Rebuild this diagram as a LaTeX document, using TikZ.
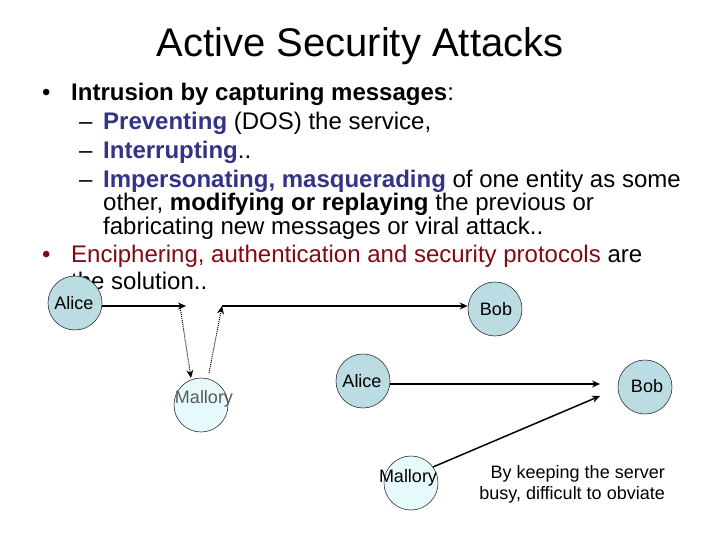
\documentclass[tikz,border=0pt]{standalone}
\usepackage{fontspec}
\setmainfont{Liberation Sans}
\usetikzlibrary{arrows.meta}
\definecolor{peer}{RGB}{186,220,226}
\definecolor{spy}{RGB}{230,250,252}
\definecolor{navyt}{RGB}{51,51,135}
\definecolor{redt}{RGB}{128,10,20}
\tikzset{
  x=1pt,y=-1pt,
  title/.style={font=\fontsize{40}{40}\selectfont,inner sep=0pt},
  lineA/.style={anchor=base west,inner sep=0pt,font=\fontsize{24}{24}\selectfont},
  peernode/.style={circle,draw=black!80,line width=.6pt,fill=peer,minimum size=54pt,inner sep=0pt},
  spynode/.style={circle,draw=black!80,line width=.6pt,fill=spy,minimum size=54pt,inner sep=0pt},
  lab/.style={inner sep=0pt,font=\fontsize{18}{18}\selectfont},
  conn/.style={line width=1.5pt,-{Stealth[length=8pt,width=7pt]}},
  dotconn/.style={line width=1pt,densely dotted,-{Stealth[length=8pt,width=7pt]}}
}
\begin{document}
\begin{tikzpicture}
\useasboundingbox (0,0) rectangle (720,540);
\fill[white] (0,0) rectangle (720,540);
\node[title] (ttl) at (360,46) {Active Security Attacks};
\node[lineA] (b1) at (42,101) {•};
\node[lineA] (l1) at (71,101) {\textbf{Intrusion by capturing messages}:};
\node[lineA] (d2) at (79,130) {–};
\node[lineA] (l2) at (103,130) {\textcolor{navyt}{\textbf{Preventing}} (DOS) the service,};
\node[lineA] (d3) at (79,159) {–};
\node[lineA] (l3) at (103,159) {\textcolor{navyt}{\textbf{Interrupting}}..};
\node[lineA] (d4) at (79,188) {–};
\node[lineA] (l4) at (103,188) {\textcolor{navyt}{\textbf{Impersonating, masquerading}} of one entity as some};
\node[lineA] (l5) at (103,211) {other, \textbf{modifying or replaying} the previous or};
\node[lineA] (l6) at (103,234) {fabricating new messages or viral attack..};
\node[lineA,text=redt] (b7) at (42,262) {•};
\node[lineA] (l7) at (71,262) {\textcolor{redt}{Enciphering, authentication and security protocols} are};
\node[lineA] (l8) at (71,289) {the solution..};
\node[peernode] (alice1) at (75,303) {};
\node[lab] at (74,303) {Alice};
\node[peernode] (bob1) at (495,309) {};
\node[lab] at (496,309) {Bob};
\node[spynode] (mal1) at (201,405) {};
\node[lab,text=black!65] at (204,399) {Mallory};
\node[peernode] (alice2) at (363,381) {};
\node[lab] at (362,381) {Alice};
\node[peernode] (bob2) at (645,387) {};
\node[lab] at (647,386) {Bob};
\node[spynode] (mal2) at (411,483) {};
\node[lab] at (408,478) {Mallory};
\node[lab,align=right,anchor=east] (note) at (665,484) {By keeping the server\\[3pt]busy, difficult to obviate};
\coordinate (c1) at (186,306);
\coordinate (c2) at (222,306);
\coordinate (c3) at (180,306);
\coordinate (c4) at (191,378);
\coordinate (c5) at (209,373);
\coordinate (c6) at (600,384);
\coordinate (c7) at (600,396);
\coordinate (c8) at (433,467);
\draw[conn] (alice1.east |- c1) -- (c1);
\draw[conn] (c2) -- (bob1.west |- c2);
\draw[dotconn] (c3) -- (c4);
\draw[dotconn] (c5) -- (c2);
\draw[conn] (alice2.east |- c6) -- (c6);
\draw[conn] (c8) -- (c7);
\end{tikzpicture}
\end{document}
